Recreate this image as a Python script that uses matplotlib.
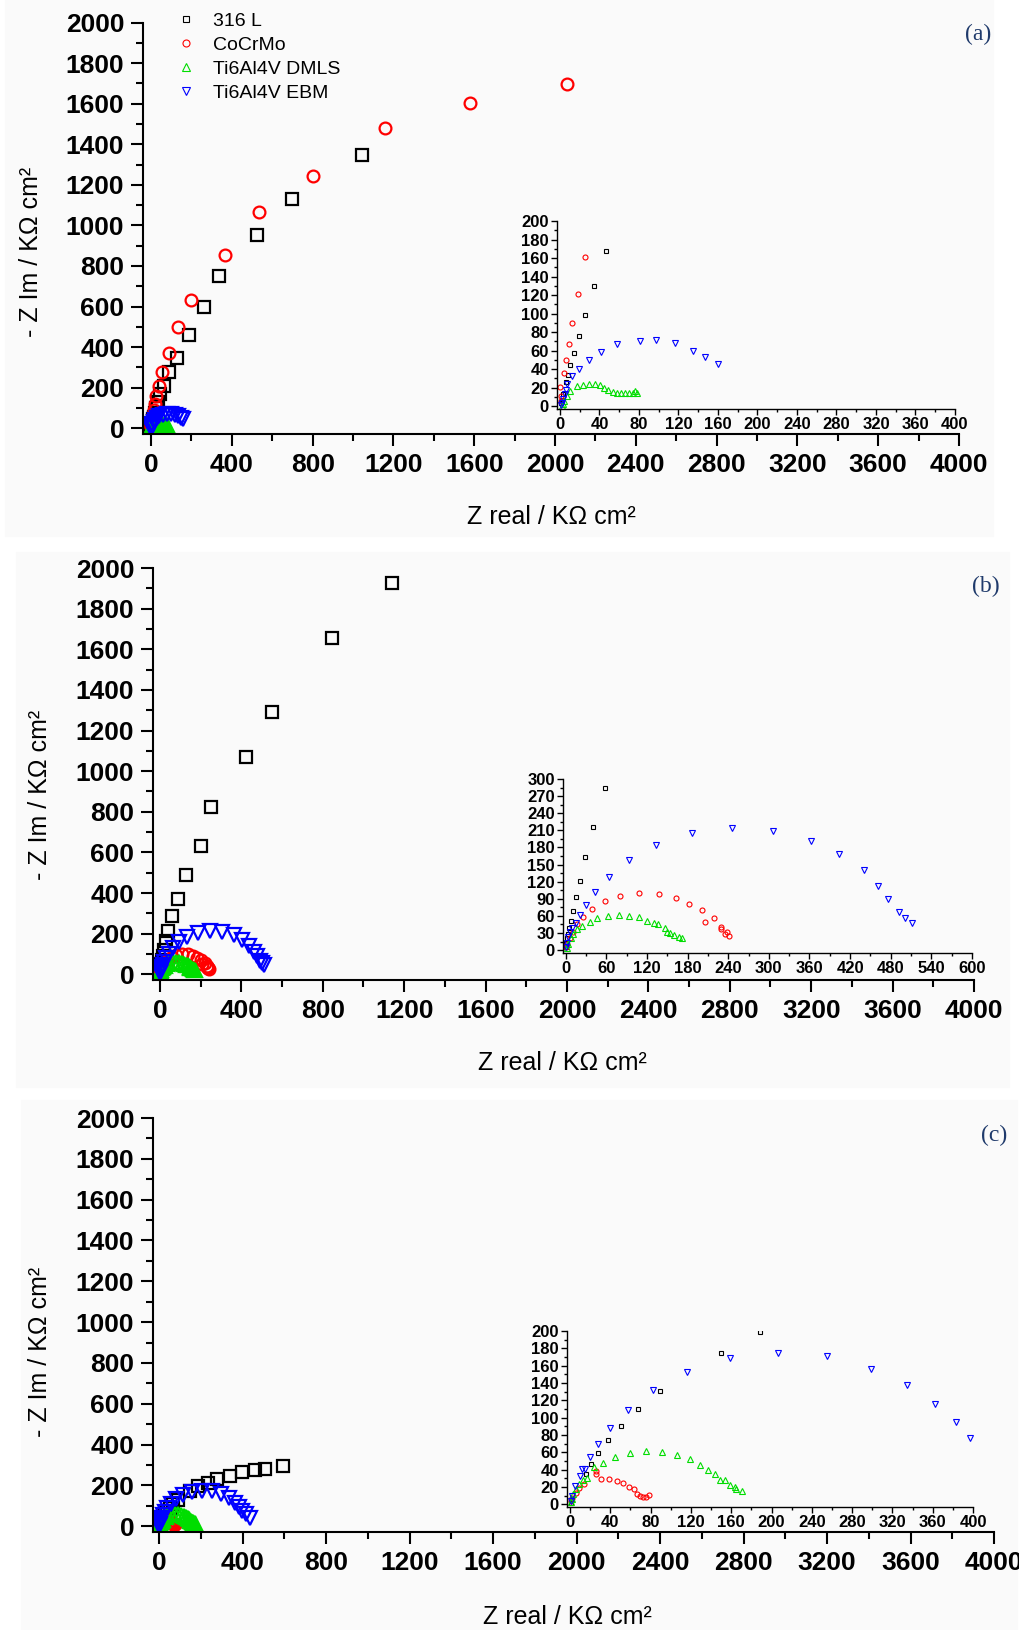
import matplotlib.pyplot as plt
from matplotlib.patches import Rectangle
from matplotlib.ticker import MultipleLocator

plt.rcParams['font.family'] = ['Liberation Sans', 'DejaVu Sans']

labels = ['316 L', 'CoCrMo', 'Ti6Al4V DMLS', 'Ti6Al4V EBM']
colors = ['black', '#ff0000', '#00dd00', '#0000ff']
markers = ['s', 'o', '^', 'v']

# ---- panel (a)
a_316_x = [0.7, 1.7, 3.4, 6.4, 8.1, 10.5, 14.2, 19.3, 25.7, 34.8, 46.6, 64, 89, 129, 188, 262, 334, 525, 700, 1045]
a_316_y = [3, 7, 13, 26, 34, 44, 58, 76, 99, 130, 168, 207, 276, 345, 459, 598, 751, 951, 1130, 1345]
a_co_x = [0.7, 1.4, 0, 4.1, 6.1, 8.8, 12.2, 17.9, 25.7, 38, 55, 89, 134, 200, 365, 535, 803, 1159, 1581, 2061]
a_co_y = [5.7, 11, 21, 36.4, 49.6, 67, 89.6, 121, 161, 210, 276, 369, 498, 633, 854, 1068, 1243, 1478, 1601, 1698]
a_dm_x = [1.7, 2.7, 4.4, 6.8, 10, 17, 23.6, 29.7, 35.5, 40.5, 45, 49, 54, 57.4, 61.5, 66, 70, 73.6, 76, 78]
a_dm_y = [0.4, 2, 5.7, 11, 16.4, 22, 23, 24, 24, 23, 20, 17.5, 15, 14.6, 14, 14, 14, 14.6, 16, 14.6]
a_eb_x = [1, 2, 3.4, 4.7, 6, 6.8, 12.5, 19.6, 29, 41.6, 57.4, 81, 97, 116, 134.5, 147, 160.5]
a_eb_y = [1, 3.2, 7.5, 13, 18, 23.6, 32.5, 40, 49.6, 59, 67, 70, 71.4, 68, 60, 53, 46]

# ---- panel (b)
b_316_x = [0, 0.5, 1.5, 2.9, 4.9, 7.4, 10.3, 14.7, 20.6, 28.4, 40.7, 58.3, 87, 128, 200, 250, 425, 552, 844, 1141]
b_316_y = [4.7, 11.7, 20.5, 29, 38, 51.5, 69, 92.4, 121.6, 162.6, 215, 285, 373, 491, 634, 823, 1069, 1290, 1653, 1925]
b_co_x = [1, 2.5, 6.4, 10.8, 17.2, 25.5, 38.7, 58.3, 80.9, 108.8, 137.3, 162.3, 182.8, 201.9, 219.6, 205.9, 229.9, 229, 235, 238, 241.7]
b_co_y = [4.7, 10.5, 20.5, 32, 45.6, 58.5, 72.5, 85.4, 95.3, 99.4, 97.7, 90.6, 80.7, 70.2, 56.7, 49.7, 39.8, 37, 29, 31, 25]
b_dm_x = [1.5, 3.9, 7.4, 11.3, 17.2, 24.5, 35.3, 46.6, 62.7, 78, 94, 107.8, 120, 130, 137, 146, 149.5, 154, 160.3, 166.7, 171.6]
b_dm_y = [4, 10.5, 20.5, 29, 36.3, 42.7, 49.7, 56, 60, 62, 60, 57.3, 51.5, 46.8, 45.6, 38, 31, 30, 27, 23.4, 20.5]
b_eb_x = [0, 1.5, 3.4, 6.4, 8.8, 14.7, 20.6, 29.4, 43, 63.7, 94, 134, 186.8, 245.6, 305.6, 362, 403, 440, 461, 475.6, 492, 501, 511]
b_eb_y = [4.7, 12.9, 23, 32, 38, 46.8, 61.4, 79, 101.8, 128.7, 158, 184, 204.7, 214, 209, 192, 168, 140, 112, 88.9, 67, 55.6, 46.8]

# ---- panel (c)
c_316_x = [1, 2.3, 15.6, 20.9, 28.2, 38, 50.7, 67.3, 89, 149.8, 188.6, 235, 278, 340, 398, 460, 508, 595]
c_316_y = [2, 5.8, 35.4, 47, 59.6, 73.8, 90.8, 110, 131, 175, 199, 211, 230, 245, 265, 274, 279, 294]
c_co_x = [0.7, 2.3, 5.6, 8.9, 13.9, 25.9, 26.2, 31.2, 39.1, 46.4, 52.7, 58.7, 63.6, 66.9, 69.3, 72.6, 75.9, 78.5]
c_co_y = [3.8, 7.7, 12.7, 19.2, 23.5, 38.5, 34.6, 28.8, 28.8, 26.5, 24.2, 20, 17.3, 12.3, 9.6, 8, 8.8, 10.8]
c_dm_x = [0.7, 1.7, 3.3, 5.6, 8.9, 12.9, 17.2, 23.9, 33, 44.7, 59.3, 75, 91, 105.7, 119, 128.9, 136.5, 144, 149, 153.8, 159, 164, 164.7, 170.3]
c_dm_y = [2.7, 6.5, 11.5, 17.3, 23, 28, 30.8, 43.5, 47.3, 54.2, 58.8, 61.5, 60.4, 57, 52, 45.8, 40, 34.6, 28, 28, 22, 20, 17.3, 16]
c_eb_x = [1, 2.3, 5, 9.6, 11.6, 14.9, 19.9, 27.5, 39.8, 57.7, 82.8, 116.6, 159, 206.5, 255, 299, 334.7, 362, 383, 397.3, 415, 436]
c_eb_y = [3.8, 9.6, 21, 32.7, 40.4, 41, 55, 69.2, 87.7, 108.5, 132, 153, 168.5, 175, 171, 156.5, 137.7, 116, 95, 77, 62, 40]

W, H = 1020, 1630


def box(left, top, right, bottom):
    # pixel box -> figure fraction [l, b, w, h]
    return [left / W, 1 - bottom / H, (right - left) / W, (bottom - top) / H]


def style(ax, size, major, minor, pad, xmaj, xmin, ymaj, ymin, lw):
    for s in ['top', 'right']:
        ax.spines[s].set_visible(False)
    for s in ['left', 'bottom']:
        ax.spines[s].set_linewidth(lw)
    ax.set_facecolor('none')
    ax.xaxis.set_major_locator(MultipleLocator(xmaj))
    ax.xaxis.set_minor_locator(MultipleLocator(xmin))
    ax.yaxis.set_major_locator(MultipleLocator(ymaj))
    ax.yaxis.set_minor_locator(MultipleLocator(ymin))
    ax.tick_params(which='major', direction='out', length=major, width=lw, labelsize=size, pad=pad)
    ax.tick_params(which='minor', direction='out', length=minor, width=lw)
    for t in ax.get_xticklabels() + ax.get_yticklabels():
        t.set_fontweight('bold')


fig = plt.figure(figsize=(W / 100, H / 100), dpi=100)

# faint panel backgrounds
for l, t, r, b in [(5, 0, 993, 536), (16, 552, 1009, 1087), (21, 1100, 1017, 1630)]:
    fig.patches.append(Rectangle((l / W, 1 - b / H), (r - l) / W, (b - t) / H,
                                 transform=fig.transFigure, color='#fafafa', zorder=-10))

panels = [
    dict(series=[(a_316_x, a_316_y), (a_co_x, a_co_y), (a_dm_x, a_dm_y), (a_eb_x, a_eb_y)],
         main=box(143, 22.5, 959, 434), xlo=-40,
         inset=box(557, 221, 955, 409), ixlim=(-3, 400), iylim=(-3, 200), ix=(40, 20), iy=(20, 10),
         tag='(a)', tagpos=(978, 34), ylab=(31, 252), xlab=(551, 517)),
    dict(series=[(b_316_x, b_316_y), (b_co_x, b_co_y), (b_dm_x, b_dm_y), (b_eb_x, b_eb_y)],
         main=box(153, 568, 974, 980), xlo=-34,
         inset=box(563, 779, 972, 953), ixlim=(-4, 600), iylim=(-5, 300), ix=(60, 30), iy=(30, 15),
         tag='(b)', tagpos=(986, 586), ylab=(40, 795), xlab=(562, 1063)),
    dict(series=[(c_316_x, c_316_y), (c_co_x, c_co_y), (c_dm_x, c_dm_y), (c_eb_x, c_eb_y)],
         main=box(153, 1118, 994, 1532), xlo=-29,
         inset=box(567, 1331, 973, 1507), ixlim=(-3, 400), iylim=(-3, 200), ix=(40, 20), iy=(20, 10),
         tag='(c)', tagpos=(994, 1135), ylab=(40, 1352), xlab=(567, 1617)),
]

main_ms = {'s': 8, 'o': 8.5, '^': 9.5, 'v': 9.5}
inset_ms = {'s': 3.3, 'o': 3.6, '^': 4.5, 'v': 4.5}

legend_handles = None
for p in panels:
    ax = fig.add_axes(p['main'])
    for (x, y), c, m in zip(p['series'], colors, markers):
        ax.plot(x, y, ls='none', marker=m, mfc='none', mec=c, ms=main_ms[m], mew=1.6)
    ax.set_xlim(p['xlo'], 4000)
    ax.set_ylim(-28, 2000)
    style(ax, 19, 8.5, 5, 5, 400, 200, 200, 100, 1.5)

    ins = fig.add_axes(p['inset'])
    handles = []
    for (x, y), c, m, lab in zip(p['series'], colors, markers, labels):
        h, = ins.plot(x, y, ls='none', marker=m, mfc='none', mec=c, ms=inset_ms[m], mew=0.8, label=lab)
        handles.append(h)
    ins.set_xlim(*p['ixlim'])
    ins.set_ylim(*p['iylim'])
    style(ins, 12, 4, 2.5, 2, p['ix'][0], p['ix'][1], p['iy'][0], p['iy'][1], 1.0)
    if legend_handles is None:
        legend_handles = handles

    fig.text(p['tagpos'][0] / W, 1 - p['tagpos'][1] / H, p['tag'], family='Liberation Serif',
             fontsize=17, color='#1f3a6b', ha='center', va='center')
    fig.text(p['ylab'][0] / W, 1 - p['ylab'][1] / H, '- Z Im / K\u03a9 cm\u00b2', rotation=90,
             fontsize=18, ha='center', va='center')
    fig.text(p['xlab'][0] / W, 1 - p['xlab'][1] / H, 'Z real / K\u03a9 cm\u00b2',
             fontsize=18, ha='center', va='center')

fig.legend(handles=legend_handles, loc='upper left', bbox_to_anchor=(176 / W, 1 - 12 / H),
           frameon=False, fontsize=14, handlelength=1.0, handletextpad=0.9,
           labelspacing=0.33, borderaxespad=0, borderpad=0, markerscale=1.4)

fig.savefig('out.png', dpi=100)
